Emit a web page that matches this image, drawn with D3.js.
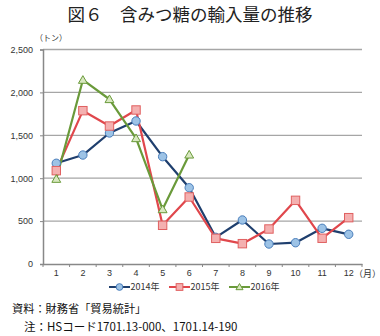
<!DOCTYPE html>
<html><head><meta charset="utf-8">
<script src="https://cdn.jsdelivr.net/npm/d3@7"></script>
<style>body{margin:0;background:#fff}svg{display:block}</style>
</head><body>
<svg id="c" width="380" height="336"></svg>
<script>
const months = ["1","2","3","4","5","6","7","8","9","10","11","12"];
const yTicks = [0,500,1000,1500,2000,2500];
const s2014 = [1174,1270,1527,1667,1251,889,311,513,233,248,416,346];
const s2015 = [1088,1787,1608,1795,451,781,299,237,408,742,300,540];
const s2016 = [991,2145,1920,1465,637,1274];
const seriesNames = ["2014年","2015年","2016年"];

const svg = d3.select("#c");
const font = "'Noto Sans CJK JP', 'Noto Sans', sans-serif";
const L = 43, R = 362, T = 49.5, B = 264;
const x = d3.scaleBand().domain(months).range([L, R]);
const y = d3.scaleLinear().domain([0, 2500]).range([B, T]);

svg.append("text").attr("x", 190).attr("y", 21).attr("text-anchor", "middle")
  .attr("font-family", font).attr("font-size", 17.5).attr("font-weight", 400).attr("fill", "#222")
  .text("図６　含みつ糖の輸入量の推移");

svg.append("text").attr("x", 35).attr("y", 41).attr("font-family", font).attr("font-size", 8).attr("fill", "#333").text("（トン）");

// grid
svg.append("g").selectAll("line").data(yTicks.filter(d => d > 0)).join("line")
  .attr("x1", L).attr("x2", R).attr("y1", d => y(d)).attr("y2", d => y(d))
  .attr("stroke", "#a6a6a6").attr("stroke-width", 1.3);

// y axis
const ya = svg.append("g").attr("transform", `translate(${L},0)`)
  .call(d3.axisLeft(y).tickValues(yTicks).tickFormat(d3.format(",")).tickSize(3));
ya.select(".domain").attr("stroke", "#888").attr("stroke-width", 1.5);
ya.selectAll(".tick line").attr("stroke", "#888");
ya.selectAll("text").attr("font-family", "'Liberation Sans', Arial, sans-serif").attr("font-size", 9).attr("fill", "#333").attr("dx", -4);

// x axis
const xa = svg.append("g").attr("transform", `translate(0,${B})`)
  .call(d3.axisBottom(x).tickSize(0).tickPadding(6));
xa.select(".domain").attr("stroke", "#888").attr("stroke-width", 1.5);
xa.selectAll("text").attr("font-family", "'Liberation Sans', Arial, sans-serif").attr("font-size", 9).attr("fill", "#333");
xa.append("g").selectAll("line").data(months).join("line")
  .attr("x1", d => x(d) + x.bandwidth()).attr("x2", d => x(d) + x.bandwidth())
  .attr("y1", 0).attr("y2", 3).attr("stroke", "#888");
xa.append("line").attr("x1", L).attr("x2", L).attr("y1", 0).attr("y2", 3).attr("stroke", "#888");
svg.append("text").attr("x", 354).attr("y", 277).attr("font-family", font).attr("font-size", 9).attr("fill", "#333").text("（月）");

const cx = (d, i) => x(months[i]) + x.bandwidth() / 2;
const line = d3.line().x(cx).y(d => y(d));

const styles = [
  {data: s2014, stroke: "#1F3F6E", fill: "#9DC3E6", mstroke: "#4A7EBB", shape: "circle"},
  {data: s2015, stroke: "#E0474C", fill: "#F4B0B0", mstroke: "#E06060", shape: "square"},
  {data: s2016, stroke: "#6A9A3A", fill: "#D8E8C0", mstroke: "#6A9A3A", shape: "triangle"}
];

function marker(g, shape, cxv, cyv, st, k) {
  k = k || 1;
  if (shape === "circle") {
    g.append("circle").attr("cx", cxv).attr("cy", cyv).attr("r", 4.2 * k)
      .attr("fill", st.fill).attr("stroke", st.mstroke).attr("stroke-width", 1);
  } else if (shape === "square") {
    g.append("rect").attr("x", cxv - 4.2 * k).attr("y", cyv - 4.2 * k).attr("width", 8.4 * k).attr("height", 8.4 * k)
      .attr("fill", st.fill).attr("stroke", st.mstroke).attr("stroke-width", 1);
  } else {
    g.append("path").attr("d", d3.symbol(d3.symbolTriangle, 34 * k * k)())
      .attr("transform", `translate(${cxv},${cyv + 0.8 * k})`)
      .attr("fill", st.fill).attr("stroke", st.mstroke).attr("stroke-width", 1);
  }
}

styles.forEach(st => {
  svg.append("path").datum(st.data).attr("d", line).attr("fill", "none")
    .attr("stroke", st.stroke).attr("stroke-width", 2.2).attr("stroke-linejoin", "round");
});
styles.forEach(st => {
  const g = svg.append("g");
  st.data.forEach((d, i) => marker(g, st.shape, cx(d, i), y(d), st));
});

// legend
const legX = [109, 169, 229];
styles.forEach((st, i) => {
  const g = svg.append("g");
  const lx = legX[i], ly = 287, len = 21;
  g.append("line").attr("x1", lx).attr("x2", lx + len).attr("y1", ly).attr("y2", ly)
    .attr("stroke", st.stroke).attr("stroke-width", 2);
  marker(g, st.shape, lx + len / 2, ly, st, 0.8);
  g.append("text").attr("x", lx + len + 0.5).attr("y", ly + 3.2).attr("font-family", font)
    .attr("font-size", 9).attr("fill", "#333").text(seriesNames[i]);
});

svg.append("text").attr("x", 12).attr("y", 313).attr("font-family", font).attr("font-size", 11.2).attr("fill", "#111")
  .text("資料：財務省「貿易統計」");
svg.append("text").attr("x", 24).attr("y", 331).attr("font-family", font).attr("font-size", 11.5).attr("fill", "#111")
  .text("注：HSコード1701.13-000、1701.14-190");
</script>
</body></html>
